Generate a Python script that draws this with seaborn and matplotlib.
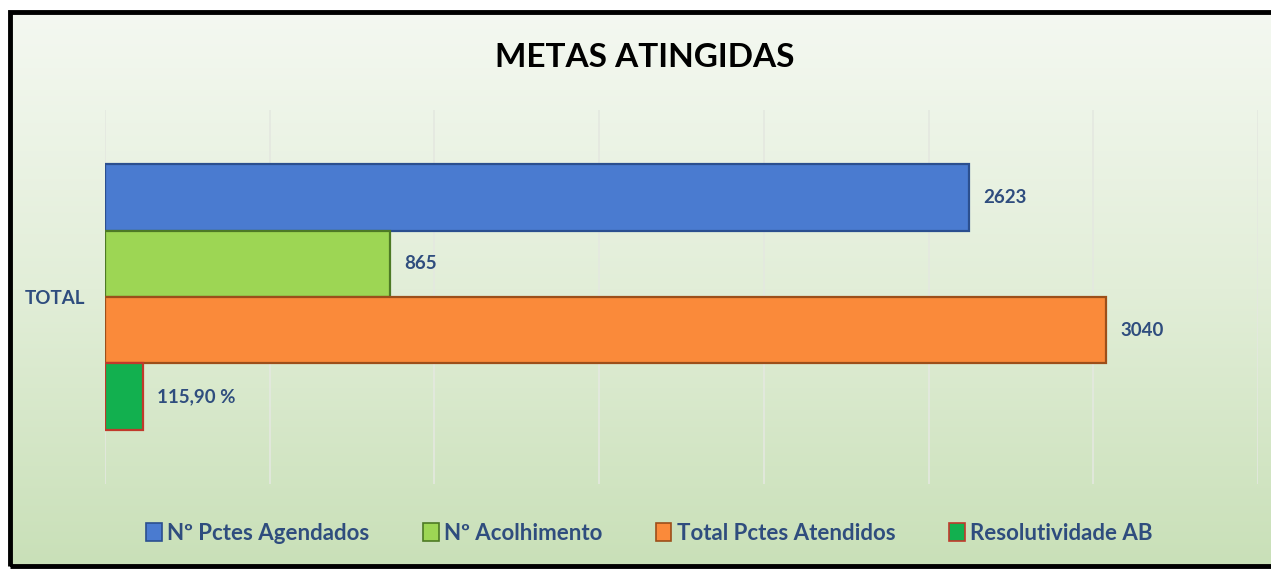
import numpy as np
import pandas as pd
import seaborn as sns
import matplotlib.pyplot as plt
from matplotlib.patches import Rectangle, Patch

# data
categoria = ['TOTAL']
series = ['Nº Pctes Agendados', 'Nº Acolhimento', 'Total Pctes Atendidos', 'Resolutividade AB']
valores = [2623, 865, 3040, 115.90]
rotulos = ['2623', '865', '3040', '115,90 %']
cores = ['#4a7bd0', '#9dd654', '#fa8a3a', '#12b04f']
bordas = ['#2b4f8f', '#4d7a25', '#9c4f1a', '#c0392b']

df = pd.DataFrame({'cat': categoria * len(series), 'serie': series, 'valor': valores})

sns.set_theme(style='white')
plt.rcParams['font.family'] = ['Lato', 'DejaVu Sans']

fig = plt.figure(figsize=(12.71, 5.69), dpi=100)

# gradient background inside the black frame
bg = fig.add_axes([10/1271, 3/569, 1.0, 1 - 15/569], zorder=0)
grad = np.linspace(0, 1, 256).reshape(-1, 1)
cmap = sns.blend_palette(['#f4f8f1', '#e2eed8', '#c9e0b8'], as_cmap=True)
bg.imshow(grad, aspect='auto', cmap=cmap, extent=[0, 1, 0, 1], origin='upper')
bg.set_axis_off()
fig.patches.append(Rectangle((10/1271, 3/569), 1.0, 1 - 15/569, transform=fig.transFigure,
                             fill=False, edgecolor='black', linewidth=3.5, zorder=5))

ax = fig.add_axes([105/1271, 1 - 484/569, 1153/1271, 374/569], zorder=1)
ax.patch.set_alpha(0)
sns.barplot(data=df, y='cat', x='valor', hue='serie', orient='h', palette=cores,
            saturation=1, width=0.71, ax=ax, legend=False, zorder=3)

for cont, borda, rot in zip(ax.containers, bordas, rotulos):
    for bar in cont:
        bar.set_edgecolor(borda)
        bar.set_linewidth(1.6)
    ax.bar_label(cont, labels=[rot], padding=10, color='#2f4d7e',
                 fontsize=13.5, fontweight='bold')

ax.set_xlim(0, 3500)
ax.set_xticks(np.arange(0, 3501, 500))
ax.set_xticklabels([])
ax.tick_params(axis='x', length=0)
ax.tick_params(axis='y', length=0, pad=14, labelsize=13.5, labelcolor='#2f4d7e')
for t in ax.get_yticklabels():
    t.set_fontweight('bold')
ax.grid(axis='x', color='#e4e8e0', linewidth=1.2, zorder=0)
ax.set_xlabel('')
ax.set_ylabel('')
sns.despine(ax=ax, left=True, bottom=True)

fig.text(0.507, 1 - 57/569, 'METAS ATINGIDAS', ha='center', va='center',
         fontsize=24, fontweight='bold', color='black')

handles = [Patch(facecolor=c, edgecolor=b, linewidth=1.2) for c, b in zip(cores, bordas)]
leg = fig.legend(handles, series, loc='center', bbox_to_anchor=(0.511, 1 - 533/569), ncol=4,
                 frameon=False, handlelength=0.7, handleheight=0.9, handletextpad=0.25,
                 columnspacing=2.4, fontsize=16)
for t in leg.get_texts():
    t.set_color('#2f4d7e')
    t.set_fontweight('bold')

fig.savefig('out.png', dpi=100)
